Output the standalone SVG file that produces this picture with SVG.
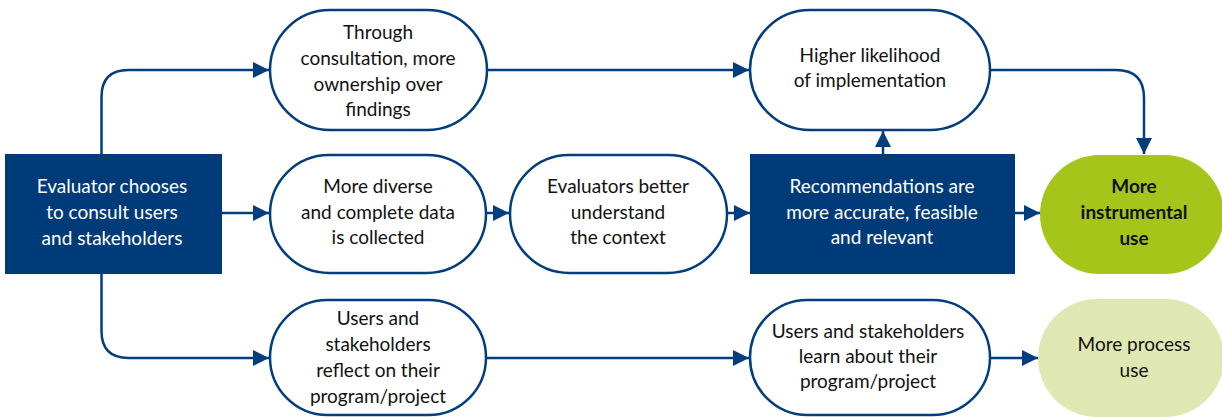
<svg xmlns="http://www.w3.org/2000/svg" width="1222" height="419" viewBox="0 0 1222 419">
<style>
.t{font-family:"Lato","Liberation Sans",sans-serif;font-size:19px;text-anchor:middle;fill:#111111}
.w{fill:#ffffff}
.b{font-weight:bold}
.st{fill:#ffffff;stroke:#023e7d;stroke-width:2.5}
.dk{fill:#003b79}
.c{fill:none;stroke:#023e7d;stroke-width:2.5;marker-end:url(#ah)}
</style>
<defs>
<marker id="ah" viewBox="0 0 10 10" refX="10" refY="5" markerUnits="userSpaceOnUse" markerWidth="16" markerHeight="17" orient="auto">
<path d="M0,0 L10,5 L0,10 Z" fill="#023e7d"/>
</marker>
</defs>
<g id="connectors">
<path class="c" d="M101.5,154 V97 Q101.5,70 128.5,70 H269"/>
<path class="c" d="M101.5,273 V331 Q101.5,358 128.5,358 H269"/>
<path class="c" d="M222,213 H269"/>
<path class="c" d="M486,213 H509"/>
<path class="c" d="M727,213 H750"/>
<path class="c" d="M1015,213 H1040"/>
<path class="c" d="M486,70 H749"/>
<path class="c" d="M990,70 H1116 Q1144,70 1144,98 V154"/>
<path class="c" d="M883,154 V131"/>
<path class="c" d="M486,358 H749"/>
<path class="c" d="M990,358 H1038"/>
</g>
<g id="n-evaluator">
<rect class="dk" x="5" y="154" width="217" height="120"/>
<text class="t w" x="112" y="193">Evaluator chooses</text>
<text class="t w" x="112" y="219">to consult users</text>
<text class="t w" x="112" y="245">and stakeholders</text>
</g>
<g id="n-ownership">
<rect class="st" x="270" y="10" width="217" height="120" rx="60"/>
<text class="t" x="378" y="39">Through</text>
<text class="t" x="378" y="65">consultation, more</text>
<text class="t" x="378" y="91">ownership over</text>
<text class="t" x="378" y="116">findings</text>
</g>
<g id="n-likelihood">
<rect class="st" x="750" y="10" width="240" height="120" rx="60"/>
<text class="t" x="870" y="62">Higher likelihood</text>
<text class="t" x="870" y="87">of implementation</text>
</g>
<g id="n-diverse">
<rect class="st" x="270" y="155" width="216" height="118" rx="59"/>
<text class="t" x="378" y="193">More diverse</text>
<text class="t" x="378" y="219">and complete data</text>
<text class="t" x="378" y="244">is collected</text>
</g>
<g id="n-understand">
<rect class="st" x="510" y="155" width="217" height="118" rx="59"/>
<text class="t" x="618" y="193">Evaluators better</text>
<text class="t" x="618" y="219">understand</text>
<text class="t" x="618" y="244">the context</text>
</g>
<g id="n-recommendations">
<rect class="dk" x="750" y="154" width="265" height="120"/>
<text class="t w" x="882" y="193">Recommendations are</text>
<text class="t w" x="882" y="219">more accurate, feasible</text>
<text class="t w" x="882" y="244">and relevant</text>
</g>
<g id="n-instrumental">
<rect x="1040" y="155" width="184" height="119" rx="59.5" fill="#a6c51b"/>
<text class="t b" x="1134" y="193">More</text>
<text class="t b" x="1134" y="219">instrumental</text>
<text class="t b" x="1134" y="245">use</text>
</g>
<g id="n-reflect">
<rect class="st" x="270" y="300" width="216" height="115" rx="57.5"/>
<text class="t" x="378" y="325">Users and</text>
<text class="t" x="378" y="351">stakeholders</text>
<text class="t" x="378" y="377">reflect on their</text>
<text class="t" x="378" y="403">program/project</text>
</g>
<g id="n-learn">
<rect class="st" x="750" y="300" width="240" height="115" rx="57.5"/>
<text class="t" x="868" y="338">Users and stakeholders</text>
<text class="t" x="868" y="363">learn about their</text>
<text class="t" x="868" y="388">program/project</text>
</g>
<g id="n-process">
<rect x="1038" y="299" width="186" height="118" rx="59" fill="#dfe8b3"/>
<text class="t" x="1134" y="351">More process</text>
<text class="t" x="1134" y="377">use</text>
</g>
</svg>
